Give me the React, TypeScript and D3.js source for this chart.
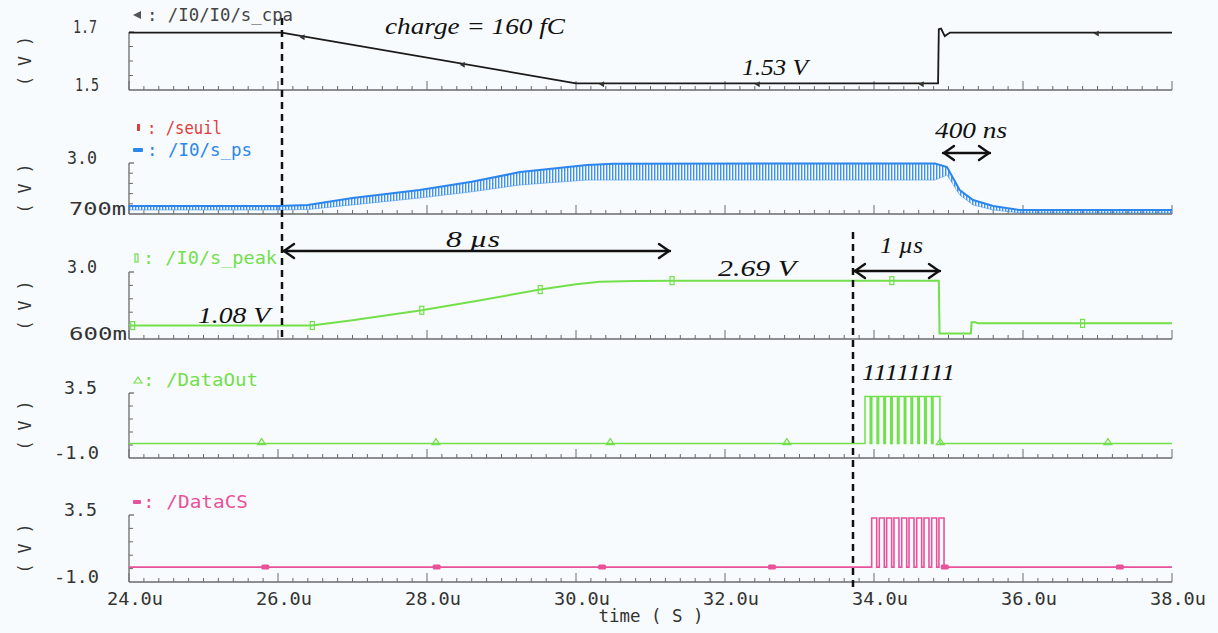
import React from "react";
import * as d3 from "d3";

// ---------------- data ----------------
const timeTicks = [24, 26, 28, 30, 32, 34, 36, 38];
const timeTickLabels = ["24.0u", "26.0u", "28.0u", "30.0u", "32.0u", "34.0u", "36.0u", "38.0u"];

// /I0/I0/s_cpa  (V)
const cpaTime = [24.0, 26.05, 30.0, 34.86, 34.87, 34.9, 34.95, 35.02, 38.0];
const cpaValue = [1.698, 1.698, 1.523, 1.523, 1.71, 1.712, 1.686, 1.698, 1.698];
const cpaMarkerTime = [26.33, 28.48, 30.35, 32.44, 34.64, 36.99];

// /I0/s_ps ripple envelope (V)
const psTime = [24.0, 26.0, 26.4, 27.0, 27.9, 28.6, 29.25, 30.15, 30.5, 34.82, 34.98, 35.15, 35.33, 35.6, 35.95, 38.0];
const psTop = [1.06, 1.06, 1.11, 1.42, 1.78, 2.15, 2.59, 2.91, 2.97, 2.98, 2.82, 1.78, 1.33, 1.06, 0.88, 0.88];
const psBottom = [0.88, 0.88, 0.9, 1.11, 1.42, 1.7, 2.01, 2.23, 2.23, 2.23, 2.46, 1.56, 1.11, 0.88, 0.75, 0.75];

// /I0/s_peak (V)
const peakTime = [24.0, 26.45, 27.0, 27.93, 28.7, 29.52, 30.0, 30.32, 30.8, 31.3, 34.87, 34.88, 35.3, 35.31, 35.36, 35.4, 38.0];
const peakValue = [1.08, 1.08, 1.27, 1.63, 1.98, 2.37, 2.56, 2.65, 2.68, 2.69, 2.69, 0.8, 0.8, 1.2, 1.2, 1.16, 1.16];
const peakMarkerTime = [24.05, 26.46, 27.93, 29.52, 31.29, 34.24, 36.8];

// /DataOut pulses
const outRise = [33.879, 33.97, 34.062, 34.153, 34.244, 34.336, 34.426, 34.518, 34.609, 34.701, 34.792];
const outFall = [33.95, 34.041, 34.133, 34.224, 34.315, 34.407, 34.497, 34.589, 34.68, 34.772, 34.885];
const outLow = 0;
const outHigh = 3.25;
const outMarkerTime = [25.78, 28.12, 30.46, 32.83, 34.89, 37.14];

// /DataCS pulses
const csRise = [33.969, 34.071, 34.17, 34.268, 34.372, 34.47, 34.573, 34.671, 34.774, 34.872];
const csFall = [34.036, 34.138, 34.237, 34.335, 34.439, 34.537, 34.64, 34.738, 34.841, 34.94];
const csLow = 0;
const csHigh = 3.3;
const csMarkerTime = [25.83, 28.13, 30.35, 32.63, 34.95, 37.3];

// ---------------- layout ----------------
const W = 1218;
const H = 633;
const X0 = 129;
const X1 = 1172;
const x = d3.scaleLinear().domain([24, 38]).range([X0, X1]);

const panels = [
  { top: 32, bottom: 90, domain: [1.5, 1.7], labels: ["1.7", "1.5"], lw: [24, 24], nt: 4 },
  { top: 163, bottom: 214, domain: [0.7, 3.0], labels: ["3.0", "700m"], lw: [30, 57], nt: 5 },
  { top: 272, bottom: 339, domain: [0.6, 3.0], labels: ["3.0", "600m"], lw: [30, 58], nt: 5 },
  { top: 393, bottom: 458, domain: [-1.0, 3.5], labels: ["3.5", "-1.0"], lw: [33, 45], nt: 5 },
  { top: 515, bottom: 582, domain: [-1.0, 3.5], labels: ["3.5", "-1.0"], lw: [33, 45], nt: 5 },
];
const yScales = panels.map((p) => d3.scaleLinear().domain(p.domain).range([p.bottom, p.top]));

const AX = "#6a6a6a";
const TXT = "#333333";
const MONO = "'DejaVu Sans Mono', monospace";
const SERIF = "'Liberation Serif', 'Times New Roman', serif";
const BLUE = "#2b86ee";
const GREEN = "#72e04a";
const PINK = "#e8529a";
const FS = 18;

function pulsePoints(rise: number[], fall: number[], lo: number, hi: number): [number, number][] {
  const pts: [number, number][] = [[24, lo]];
  rise.forEach((r, i) => {
    pts.push([r, lo], [r, hi], [fall[i], hi], [fall[i], lo]);
  });
  pts.push([38, lo]);
  return pts;
}

function valueAt(ts: number[], vs: number[], t: number) {
  const i = d3.bisectRight(ts, t);
  if (i <= 0) return vs[0];
  if (i >= ts.length) return vs[vs.length - 1];
  const f = (t - ts[i - 1]) / (ts[i] - ts[i - 1] || 1);
  return vs[i - 1] + f * (vs[i] - vs[i - 1]);
}

const Panel: React.FC<{ i: number }> = ({ i }) => {
  const p = panels[i];
  const minor = d3.range(24, 38.0001, 0.2);
  const yt = d3.range(1, p.nt).map((k) => p.top + ((p.bottom - p.top) * k) / p.nt);
  return (
    <g>
      <line x1={X0} x2={X0} y1={p.top} y2={p.bottom} stroke={AX} strokeWidth={1.3} />
      <line x1={X0} x2={X1} y1={p.bottom} y2={p.bottom} stroke={AX} strokeWidth={1.3} />
      <line x1={X0} x2={X0 + 5} y1={p.top} y2={p.top} stroke={AX} strokeWidth={1.3} />
      {yt.map((yy, k) => (
        <line key={k} x1={X0} x2={X0 + 4} y1={yy} y2={yy} stroke={AX} strokeWidth={1} />
      ))}
      {minor.map((t, k) => {
        const major = Math.abs(t - Math.round(t / 2) * 2) < 1e-6;
        return (
          <line key={k} x1={x(t)} x2={x(t)} y1={p.bottom} y2={p.bottom - (major ? 9 : 4)} stroke={AX} strokeWidth={1} />
        );
      })}
      <text x={p.labels[0].endsWith("m") ? 70 : 97 - p.lw[0]} y={p.top + 1} fontFamily={MONO} fontSize={FS} fill={TXT}
        textLength={p.lw[0]} lengthAdjust="spacingAndGlyphs">{p.labels[0]}</text>
      <text x={p.labels[1].endsWith("m") ? 69 : 99 - p.lw[1]} y={p.bottom + 1} fontFamily={MONO} fontSize={FS} fill={TXT}
        textLength={p.lw[1]} lengthAdjust="spacingAndGlyphs">{p.labels[1]}</text>
      <text transform={`translate(31,${(p.top + p.bottom) / 2}) rotate(-90)`} textAnchor="middle" fontFamily={MONO}
        fontSize={FS} fill={TXT} textLength={50} lengthAdjust="spacingAndGlyphs">( V )</text>
    </g>
  );
};

export default function App() {
  const [y1, y2, y3, y4, y5] = yScales;

  const cpaLine = d3.line<number>().x((_, k) => x(cpaTime[k])).y((v) => y1(v))(cpaValue) || "";
  const psArea =
    d3.area<number>().x((_, k) => x(psTime[k])).y0((_, k) => y2(psBottom[k])).y1((v) => y2(v))(psTop) || "";
  const psTopLine = d3.line<number>().x((_, k) => x(psTime[k])).y((v) => y2(v))(psTop) || "";
  const psBotLine = d3.line<number>().x((_, k) => x(psTime[k])).y((v) => y2(v))(psBottom) || "";
  const peakLine = d3.line<number>().x((_, k) => x(peakTime[k])).y((v) => y3(v))(peakValue) || "";
  const outLine =
    d3.line<[number, number]>().x((d) => x(d[0])).y((d) => y4(d[1]))(pulsePoints(outRise, outFall, outLow, outHigh)) || "";
  const csLine =
    d3.line<[number, number]>().x((d) => x(d[0])).y((d) => y5(d[1]))(pulsePoints(csRise, csFall, csLow, csHigh)) || "";

  const ann = (txt: string, ax: number, ay: number, w: number, fs = 23) => (
    <text x={ax} y={ay} fontFamily={SERIF} fontStyle="italic" fontSize={fs} fill="#111" textLength={w}
      lengthAdjust="spacingAndGlyphs">{txt}</text>
  );

  const dblArrow = (xa: number, xb: number, yy: number) => (
    <g stroke="#111" strokeWidth={2.4} fill="none" strokeLinecap="round" strokeLinejoin="round">
      <line x1={xa} x2={xb} y1={yy} y2={yy} />
      <polyline points={`${xa + 11},${yy - 7} ${xa + 1},${yy} ${xa + 11},${yy + 7}`} />
      <polyline points={`${xb - 11},${yy - 7} ${xb - 1},${yy} ${xb - 11},${yy + 7}`} />
    </g>
  );

  return (
    <svg width={W} height={H} viewBox={`0 0 ${W} ${H}`} style={{ position: "absolute", left: 0, top: 0, background: "#f8fbfd" }}>
      <defs>
        <pattern id="ripple" patternUnits="userSpaceOnUse" width={3} height={20}>
          <rect x={0} y={0} width={1.4} height={20} fill={BLUE} />
        </pattern>
      </defs>
      <rect x={0} y={0} width={W} height={H} fill="#f8fbfd" />
      {panels.map((_, i) => (
        <Panel key={i} i={i} />
      ))}

      {/* legends */}
      <g fontFamily={MONO} fontSize={FS}>
        <path d="M133,15 L141,11 L141,19 Z" fill="#555" />
        <text x={147} y={21} fill="#444" textLength={146} lengthAdjust="spacingAndGlyphs">: /I0/I0/s_cpa</text>

        <rect x={137} y={124} width={3} height={7} fill="#e23b3b" />
        <text x={147} y={134} fill="#e23b3b" textLength={75} lengthAdjust="spacingAndGlyphs">: /seuil</text>
        <rect x={133} y={148} width={10} height={4} rx={1} fill={BLUE} />
        <text x={147} y={156} fill={BLUE} textLength={105} lengthAdjust="spacingAndGlyphs">: /I0/s_ps</text>

        <rect x={135} y={254} width={3} height={8} fill="none" stroke={GREEN} strokeWidth={1.2} />
        <text x={143} y={264} fill={GREEN} textLength={134} lengthAdjust="spacingAndGlyphs">: /I0/s_peak</text>

        <path d="M134,383 L138,377 L142,383 Z" fill="none" stroke={GREEN} strokeWidth={1.2} />
        <text x={143} y={386} fill={GREEN} textLength={115} lengthAdjust="spacingAndGlyphs">: /DataOut</text>

        <rect x={133} y={500} width={8} height={4} rx={1} fill={PINK} />
        <text x={143} y={508} fill={PINK} textLength={105} lengthAdjust="spacingAndGlyphs">: /DataCS</text>
      </g>

      {/* x tick labels + title */}
      <g fontFamily={MONO} fontSize={FS} fill={TXT}>
        {timeTicks.map((t, k) => (
          <text key={k} x={x(t) + 6} y={605} textAnchor="middle" textLength={56} lengthAdjust="spacingAndGlyphs">
            {timeTickLabels[k]}
          </text>
        ))}
        <text x={651} y={622} textAnchor="middle" textLength={105} lengthAdjust="spacingAndGlyphs">time ( S )</text>
      </g>

      {/* s_cpa */}
      <path d={cpaLine} fill="none" stroke="#1a1a1a" strokeWidth={1.8} />
      {cpaMarkerTime.map((t, k) => {
        const cx = x(t);
        const cy = y1(valueAt(cpaTime, cpaValue, t));
        return <path key={k} d={`M${cx - 3},${cy + 1} L${cx + 2},${cy - 2} L${cx + 2},${cy + 4} Z`} fill="#333" />;
      })}

      {/* s_ps */}
      <path d={psArea} fill="url(#ripple)" opacity={0.9} />
      <path d={psTopLine} fill="none" stroke={BLUE} strokeWidth={2} />
      <path d={psBotLine} fill="none" stroke={BLUE} strokeWidth={0.8} opacity={0.6} />

      {/* s_peak */}
      <path d={peakLine} fill="none" stroke={GREEN} strokeWidth={2} />
      {peakMarkerTime.map((t, k) => {
        const cx = x(t);
        const cy = y3(valueAt(peakTime, peakValue, t));
        return <rect key={k} x={cx - 2} y={cy - 4} width={4} height={8} fill="none" stroke={GREEN} strokeWidth={1.2} />;
      })}

      {/* DataOut */}
      <path d={outLine} fill="none" stroke={GREEN} strokeWidth={1.5} />
      {outMarkerTime.map((t, k) => {
        const cx = x(t);
        const cy = y4(outLow);
        return <path key={k} d={`M${cx - 4},${cy + 1} L${cx},${cy - 5} L${cx + 4},${cy + 1} Z`} fill="none" stroke={GREEN} strokeWidth={1.2} />;
      })}

      {/* DataCS */}
      <path d={csLine} fill="none" stroke={PINK} strokeWidth={1.6} />
      {csMarkerTime.map((t, k) => {
        const cx = x(t);
        const cy = y5(csLow);
        return <rect key={k} x={cx - 4} y={cy - 2.5} width={8} height={5} rx={1.5} fill={PINK} />;
      })}

      {/* dashed markers */}
      <line x1={282} x2={282} y1={18} y2={340} stroke="#111" strokeWidth={2.5} strokeDasharray="7,5" />
      <line x1={853} x2={853} y1={232} y2={590} stroke="#111" strokeWidth={2.5} strokeDasharray="7,5" />

      {/* arrows */}
      {dblArrow(283, 670, 251)}
      {dblArrow(854, 940, 271)}
      {dblArrow(943, 990, 153)}

      {/* annotations */}
      {ann("charge = 160 fC", 385, 34, 180)}
      {ann("1.53 V", 742, 75, 66)}
      {ann("400 ns", 935, 138, 72)}
      {ann("8 µs", 446, 247, 54)}
      {ann("2.69 V", 718, 276, 78)}
      {ann("1.08 V", 198, 323, 72)}
      {ann("1 µs", 880, 253, 43)}
      {ann("11111111", 862, 380, 93)}
    </svg>
  );
}
